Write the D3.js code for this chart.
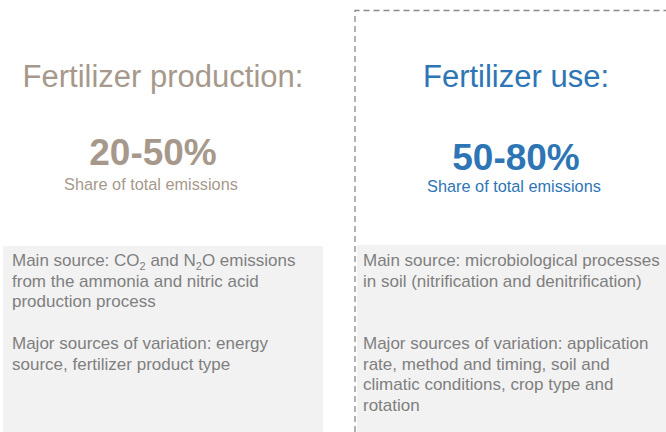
<!DOCTYPE html>
<html>
<head>
<meta charset="utf-8">
<script src="https://cdn.jsdelivr.net/npm/d3@7"></script>
<style>
  html, body { margin: 0; padding: 0; background: #fff; }
  svg { display: block; font-family: Arial, "Liberation Sans", sans-serif; }
</style>
</head>
<body>
<div id="chart"></div>
<script>
// panel data
var categories = ["Fertilizer production:", "Fertilizer use:"];
var shares = ["20-50%", "50-80%"];
var shareLabels = ["Share of total emissions", "Share of total emissions"];
var colors = ["#a6998c", "#2e75b6"];
// "_2" marks a subscript 2
var mainSource = [
    ["Main source: CO_2 and N_2O emissions", "from the ammonia and nitric acid", "production process"],
    ["Main source: microbiological processes", "in soil (nitrification and denitrification)"]
];
var variation = [
    ["Major sources of variation: energy", "source, fertilizer product type"],
    ["Major sources of variation: application", "rate, method and timing, soil and", "climatic conditions, crop type and", "rotation"]
];

var width = 666, height = 432;

var svg = d3.select("#chart")
    .append("svg")
    .attr("width", width)
    .attr("height", height);

// centre of each panel
var x = d3.scalePoint()
    .domain(categories)
    .range([163, 516]);

// grey boxes at the bottom
svg.selectAll(".box")
    .data(categories)
    .enter().append("rect")
    .attr("class", "box")
    .attr("x", (d, i) => i == 0 ? x(d) - 160 : x(d) - 159)
    .attr("y", (d, i) => i == 0 ? 246 : 245)
    .attr("width", 320)
    .attr("height", 200)
    .attr("fill", "#f2f2f2");

// dashed frame around the right panel
var frameX = (x(categories[0]) + x(categories[1])) / 2 + 15.5;
svg.append("path")
    .attr("d", `M${frameX},${height} V10.5 H${width}`)
    .attr("fill", "none")
    .attr("stroke", "#8a8a8a")
    .attr("stroke-width", 1.3)
    .attr("stroke-dasharray", "6,4");

// titles
svg.selectAll(".title")
    .data(categories)
    .enter().append("text")
    .attr("class", "title")
    .attr("x", d => x(d))
    .attr("y", 87)
    .attr("text-anchor", "middle")
    .style("font-size", "31px")
    .attr("fill", (d, i) => colors[i])
    .text(d => d);

// big numbers
svg.selectAll(".share")
    .data(shares)
    .enter().append("text")
    .attr("class", "share")
    .attr("x", (d, i) => x(categories[i]) - (i == 0 ? 10 : 0))
    .attr("y", (d, i) => i == 0 ? 165 : 170)
    .attr("text-anchor", "middle")
    .style("font-size", "37px")
    .style("font-weight", "bold")
    .attr("fill", (d, i) => colors[i])
    .text(d => d);

svg.selectAll(".shareLabel")
    .data(shareLabels)
    .enter().append("text")
    .attr("class", "shareLabel")
    .attr("x", (d, i) => x(categories[i]) - (i == 0 ? 12 : 2))
    .attr("y", (d, i) => i == 0 ? 190 : 192)
    .attr("text-anchor", "middle")
    .style("font-size", "16.3px")
    .attr("fill", (d, i) => colors[i])
    .text(d => d);

// body text, subscripts as shifted tspans
function addLines(lines, left, top) {
    lines.forEach(function(line, j) {
        var t = svg.append("text")
            .attr("x", left)
            .attr("y", top + j * 20.7)
            .style("font-size", "17px")
            .attr("fill", "#7f7f7f");
        var shift = 0;
        line.split(/(_2)/).forEach(function(part) {
            if (part == "_2") {
                t.append("tspan").attr("dy", 4).style("font-size", "11px").text("2");
                shift = -4;
            } else if (part.length) {
                t.append("tspan").attr("dy", shift).text(part);
                shift = 0;
            }
        });
    });
}

categories.forEach(function(c, i) {
    var left = i == 0 ? 12 : 363;
    addLines(mainSource[i], left, 266);
    addLines(variation[i], left, 349);
});
</script>
</body>
</html>
